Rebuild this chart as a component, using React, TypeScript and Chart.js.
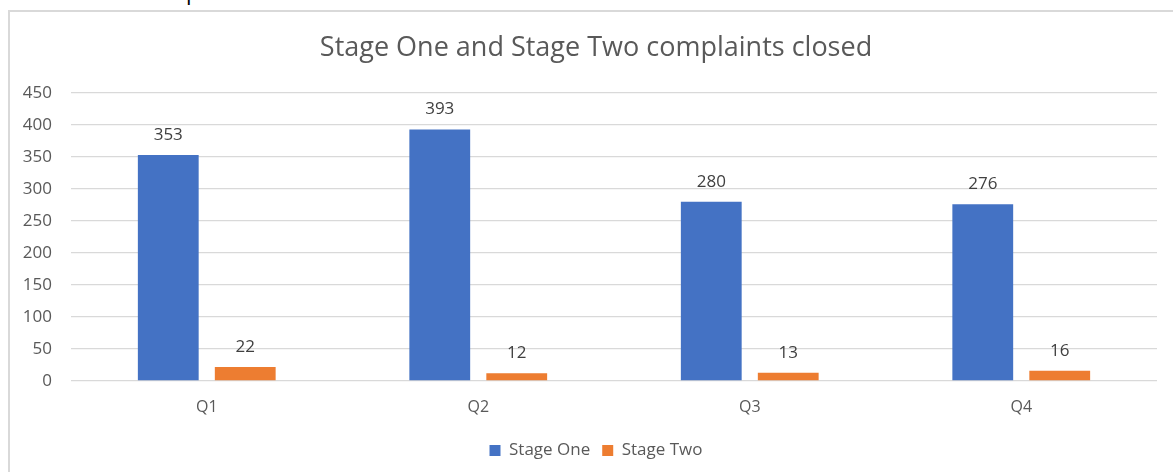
import React, { useEffect, useRef } from "react";
import { Chart, registerables } from "chart.js";

Chart.register(...registerables);

const categories = ["Q1", "Q2", "Q3", "Q4"];
const stageOne = [353, 393, 280, 276];
const stageTwo = [22, 12, 13, 16];
const seriesNames = ["Stage One", "Stage Two"];
const yTicks = [0, 50, 100, 150, 200, 250, 300, 350, 400, 450];
const titleText = "Stage One and Stage Two complaints closed";

const FONT = "'Open Sans', 'DejaVu Sans', sans-serif";

const dataLabels = {
  id: "dataLabels",
  afterDatasetsDraw(chart: any) {
    const ctx = chart.ctx;
    ctx.save();
    ctx.font = `17px ${FONT}`;
    ctx.fillStyle = "#404040";
    ctx.textAlign = "center";
    ctx.textBaseline = "alphabetic";
    chart.data.datasets.forEach((ds: any, i: number) => {
      const meta = chart.getDatasetMeta(i);
      meta.data.forEach((bar: any, j: number) => {
        ctx.fillText(String(ds.data[j]), bar.x, bar.y - 15);
      });
    });
    ctx.restore();
  },
};

export default function App() {
  const ref = useRef<HTMLCanvasElement>(null);
  useEffect(() => {
    const chart = new Chart(ref.current!, {
      type: "bar",
      data: {
        labels: categories,
        datasets: [
          {
            label: seriesNames[0],
            data: stageOne,
            backgroundColor: "#4472C4",
            categoryPercentage: 0.567,
            barPercentage: 0.79,
          },
          {
            label: seriesNames[1],
            data: stageTwo,
            backgroundColor: "#ED7D31",
            categoryPercentage: 0.567,
            barPercentage: 0.79,
          },
        ],
      },
      options: {
        animation: false,
        responsive: false,
        maintainAspectRatio: false,
        layout: { padding: { left: 20, right: 1, top: 0, bottom: 3 } },
        plugins: {
          title: {
            display: true,
            text: titleText,
            color: "#595959",
            font: { family: FONT, size: 27, weight: "normal" },
            padding: { top: 32, bottom: 28.6 },
          },
          legend: {
            position: "bottom",
            labels: {
              color: "#595959",
              font: { family: FONT, size: 17 },
              boxWidth: 11,
              boxHeight: 11,
              padding: 12,
            },
          },
          tooltip: { enabled: false },
        },
        scales: {
          x: {
            grid: { display: false, drawTicks: false },
            border: { display: false },
            ticks: { color: "#595959", font: { family: FONT, size: 16 }, padding: 17 },
            afterFit: (s: any) => {
              s.height = 49;
            },
          },
          y: {
            min: 0,
            max: 450,
            grid: { color: "#d9d9d9", lineWidth: 1.3, drawTicks: false },
            border: { display: false },
            afterBuildTicks: (s: any) => {
              s.ticks = yTicks.map((v) => ({ value: v }));
            },
            ticks: { color: "#595959", font: { family: FONT, size: 17 }, padding: 19 },
            afterFit: (s: any) => {
              s.width = 51;
            },
          },
          yRight: {
            position: "right",
            display: true,
            grid: { display: false, drawTicks: false },
            border: { display: false },
            ticks: { display: false },
            afterFit: (s: any) => {
              s.width = 15;
            },
          },
        },
      },
      plugins: [dataLabels],
    });
    return () => chart.destroy();
  }, []);

  return (
    <div
      style={{
        position: "fixed",
        left: 0,
        top: 0,
        width: 1173,
        height: 472,
        overflow: "hidden",
        background: "#fff",
      }}
    >
      <div
        style={{
          position: "absolute",
          left: 186,
          top: -24,
          fontFamily: FONT,
          fontSize: 22,
          color: "#000",
        }}
      >
        p
      </div>
      <div
        style={{
          position: "absolute",
          left: 8,
          top: 10,
          width: 1200,
          height: 500,
          border: "2px solid #d9d9d9",
          boxSizing: "border-box",
        }}
      />
      <canvas
        ref={ref}
        width={1173}
        height={472}
        style={{ position: "absolute", left: 0, top: 0, width: 1173, height: 472 }}
      />
    </div>
  );
}
